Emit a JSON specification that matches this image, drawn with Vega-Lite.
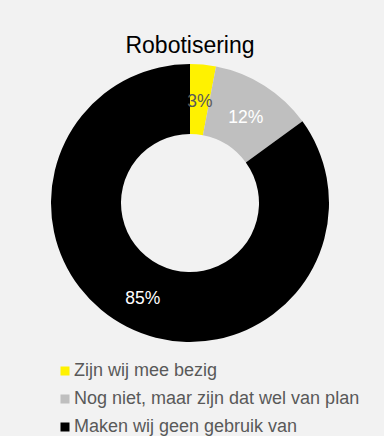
{
  "$schema": "https://vega.github.io/schema/vega-lite/v6.json",
  "width": 380,
  "height": 286,
  "autosize": "none",
  "padding": {"left": 0, "top": 60, "right": 4, "bottom": 90},
  "background": "#f2f2f2",
  "title": {
    "text": "Robotisering",
    "font": "Liberation Sans",
    "fontSize": 23,
    "fontWeight": "normal",
    "color": "#000000",
    "anchor": "middle",
    "frame": "group",
    "baseline": "alphabetic",
    "offset": 7,
    "dy": 23
  },
  "data": {
    "values": [
      {"antwoord": "Zijn wij mee bezig", "aandeel": 0.03, "volgorde": 1},
      {"antwoord": "Nog niet, maar zijn dat wel van plan", "aandeel": 0.12, "volgorde": 2},
      {"antwoord": "Maken wij geen gebruik van", "aandeel": 0.85, "volgorde": 3}
    ]
  },
  "encoding": {
    "theta": {"field": "aandeel", "type": "quantitative", "stack": true},
    "order": {"field": "volgorde", "type": "quantitative"}
  },
  "layer": [
    {
      "mark": {"type": "arc", "innerRadius": 69, "outerRadius": 139, "stroke": null},
      "encoding": {
        "color": {
          "field": "antwoord",
          "type": "nominal",
          "sort": ["Zijn wij mee bezig", "Nog niet, maar zijn dat wel van plan", "Maken wij geen gebruik van"],
          "scale": {
            "domain": ["Zijn wij mee bezig", "Nog niet, maar zijn dat wel van plan", "Maken wij geen gebruik van"],
            "range": ["#fff200", "#bfbfbf", "#000000"]
          },
          "legend": {
            "orient": "none",
            "legendX": 56,
            "legendY": 302,
            "title": null,
            "padding": 0,
            "symbolType": "square",
            "symbolSize": 81,
            "symbolStrokeWidth": 0,
            "labelFont": "Liberation Sans",
            "labelFontSize": 18,
            "labelColor": "#595959",
            "labelOffset": 0,
            "labelLimit": 400,
            "rowPadding": 10
          }
        }
      }
    },
    {
      "mark": {"type": "text", "radius": 104, "dy": 3, "font": "Liberation Sans", "fontSize": 17.5, "align": "center", "baseline": "middle"},
      "encoding": {
        "text": {"field": "aandeel", "type": "quantitative", "format": ".0%"},
        "color": {
          "condition": {"test": "datum.volgorde == 1", "value": "#595959"},
          "value": "#ffffff"
        }
      }
    }
  ]
}
